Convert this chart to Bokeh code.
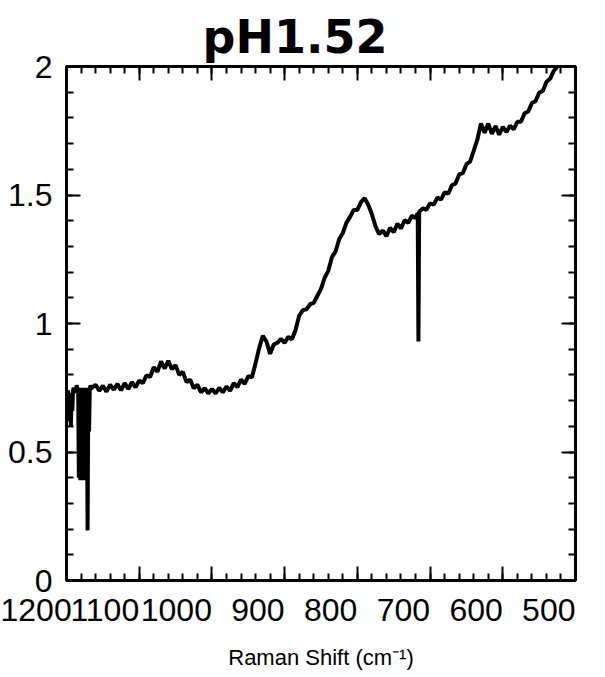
from bokeh.plotting import figure
from bokeh.models import Range1d, LinearAxis, SingleIntervalTicker, AllLabels
from bokeh.embed import file_html
from bokeh.resources import INLINE

# Raman spectrum, pH 1.52 (wavenumber in cm^-1, intensity in arbitrary units)
shift = [
    1200, 1199, 1198, 1197, 1196, 1195, 1194, 1193, 1192, 1191, 1190, 1189,
    1188, 1187, 1186, 1185, 1184, 1183, 1182, 1181, 1180, 1179, 1178, 1177,
    1176, 1175, 1174, 1173, 1172, 1171, 1170, 1169, 1168, 1167, 1166, 1165,
    1160, 1155, 1150, 1145, 1140, 1135, 1130, 1125, 1120, 1115, 1110, 1105,
    1100, 1095, 1090, 1085, 1080, 1075, 1070, 1065, 1060, 1055, 1050, 1045,
    1040, 1035, 1030, 1025, 1020, 1015, 1010, 1005, 1000, 995, 990, 985,
    980, 975, 970, 965, 960, 955, 950, 945, 940, 935, 930, 925,
    920, 915, 910, 905, 900, 895, 890, 885, 880, 875, 870, 865,
    860, 855, 850, 845, 840, 835, 830, 825, 820, 815, 810, 805,
    800, 795, 790, 785, 780, 775, 770, 765, 760, 755, 750, 745,
    740, 735, 730, 725, 720, 717, 716, 715, 710, 705, 700, 695,
    690, 685, 680, 675, 670, 665, 660, 655, 650, 645, 640, 635,
    630, 625, 620, 615, 610, 605, 600, 595, 590, 585, 580, 575,
    570, 565, 560, 555, 550, 545, 540, 535, 530, 525, 520,
]
intensity = [
    0.74, 0.66, 0.74, 0.70, 0.62, 0.73, 0.60, 0.72, 0.66, 0.74, 0.75, 0.73,
    0.75, 0.74, 0.76, 0.745, 0.75, 0.40, 0.75, 0.39, 0.74, 0.40, 0.75, 0.39,
    0.74, 0.41, 0.75, 0.39, 0.74, 0.195, 0.75, 0.58, 0.74, 0.76, 0.745, 0.75,
    0.762, 0.738, 0.758, 0.735, 0.762, 0.742, 0.765, 0.740, 0.768, 0.745, 0.772, 0.752,
    0.778, 0.768, 0.798, 0.792, 0.830, 0.812, 0.852, 0.825, 0.855, 0.822, 0.838, 0.800,
    0.812, 0.772, 0.782, 0.748, 0.762, 0.732, 0.748, 0.728, 0.745, 0.728, 0.750, 0.732,
    0.755, 0.738, 0.768, 0.752, 0.782, 0.765, 0.795, 0.790, 0.845, 0.905, 0.952, 0.930,
    0.882, 0.918, 0.925, 0.940, 0.925, 0.948, 0.938, 0.975, 1.030, 1.052, 1.055, 1.075,
    1.080, 1.108, 1.135, 1.178, 1.205, 1.258, 1.280, 1.328, 1.352, 1.392, 1.415, 1.442,
    1.442, 1.472, 1.488, 1.462, 1.425, 1.378, 1.348, 1.362, 1.340, 1.372, 1.355, 1.388,
    1.370, 1.402, 1.392, 1.420, 1.410, 1.430, 0.930, 1.435, 1.448, 1.442, 1.468, 1.462,
    1.490, 1.482, 1.510, 1.505, 1.538, 1.545, 1.580, 1.585, 1.620, 1.630, 1.672, 1.715,
    1.778, 1.742, 1.778, 1.738, 1.768, 1.735, 1.765, 1.745, 1.770, 1.755, 1.785, 1.785,
    1.818, 1.825, 1.858, 1.865, 1.898, 1.905, 1.940, 1.952, 1.982, 2.000, 2.020,
]

y_tick_labels = {0: "0", 0.5: "0.5", 1: "1", 1.5: "1.5", 2: "2"}

TITLE_FONT = "DejaVu Sans"
FONT = "Liberation Sans"
TICK_SIZE = "32px"

p = figure(
    width=605, height=677,
    x_range=Range1d(1200, 500), y_range=Range1d(0, 2),
    output_backend="svg", toolbar_location=None,
    min_border_left=66, min_border_right=30,
    min_border_top=66, min_border_bottom=97,
    background_fill_color="white", border_fill_color="white",
)
p.grid.visible = False
p.outline_line_color = "black"
p.outline_line_width = 3

p.title.text = "pH1.52"
p.title.align = "left"
p.title.offset = 136
p.title.standoff = 6
p.title.text_font = TITLE_FONT
p.title.text_font_style = "bold"
p.title.text_font_size = "46px"
p.title.text_color = "black"

x_ticker = SingleIntervalTicker(interval=100, num_minor_ticks=5)
y_ticker = SingleIntervalTicker(interval=0.5, num_minor_ticks=5)


def style_axis(ax):
    ax.axis_line_width = 3
    ax.axis_line_color = "black"
    ax.major_tick_in = 14
    ax.major_tick_out = 0
    ax.minor_tick_in = 7
    ax.minor_tick_out = 0
    ax.major_tick_line_width = 2
    ax.minor_tick_line_width = 2
    ax.major_tick_line_color = "black"
    ax.minor_tick_line_color = "black"


def hide_labels(ax):
    # tick marks only, no tick text
    ax.major_label_text_color = None
    ax.major_label_text_font_size = "1px"
    ax.major_label_standoff = 0


xa = p.xaxis[0]
xa.ticker = x_ticker
style_axis(xa)
# a near-zero angle makes the labels hang to the left of their ticks
xa.major_label_orientation = 0.0001
xa.major_label_policy = AllLabels()
xa.major_label_standoff = 29
xa.major_label_text_font = FONT
xa.major_label_text_font_size = TICK_SIZE
xa.major_label_text_color = "black"
xa.axis_label = "Raman Shift (cm\u207b\u00b9)"
xa.axis_label_text_font = FONT
xa.axis_label_text_font_style = "normal"
xa.axis_label_text_font_size = "22px"
xa.axis_label_text_color = "black"
xa.axis_label_standoff = 10

ya = p.yaxis[0]
ya.ticker = y_ticker
style_axis(ya)
ya.major_label_standoff = 14
ya.major_label_overrides = y_tick_labels
ya.major_label_text_font = FONT
ya.major_label_text_font_size = TICK_SIZE
ya.major_label_text_color = "black"

top = LinearAxis(ticker=x_ticker)
style_axis(top)
hide_labels(top)
p.add_layout(top, "above")

right = LinearAxis(ticker=y_ticker)
style_axis(right)
hide_labels(right)
p.add_layout(right, "right")

p.line(shift, intensity, line_color="black", line_width=4)

open("out.html", "w").write(file_html(p, INLINE))
